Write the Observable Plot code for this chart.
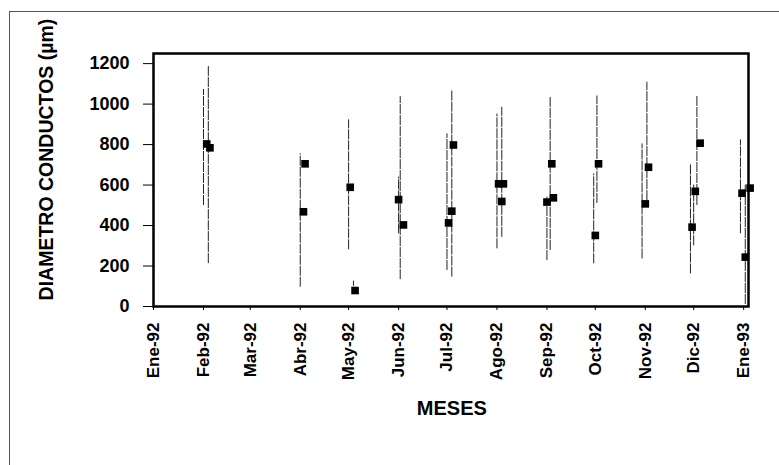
<!DOCTYPE html>
<html>
<head>
<meta charset="utf-8">
<script src="https://cdn.jsdelivr.net/npm/d3@7"></script>
<script src="https://cdn.jsdelivr.net/npm/@observablehq/plot@0.6"></script>
<style>
  html, body { margin: 0; padding: 0; background: #fff; }
  #wrap { position: relative; width: 779px; height: 465px; overflow: hidden; }
  #bl { position: absolute; left: 9px; top: 11px; width: 1px; height: 454px; background: #555; }
  #bt { position: absolute; left: 9px; top: 11px; width: 770px; height: 1px; background: #555; }
  #chart { position: absolute; left: 0; top: 0; }
</style>
</head>
<body>
<div id="wrap"><div id="chart"></div><div id="bl"></div><div id="bt"></div></div>
<script>
// Tick labels (month starts)
const monthNames = ["Ene","Feb","Mar","Abr","May","Jun","Jul","Ago","Sep","Oct","Nov","Dic"];
const tickDates = ["1992-01-01","1992-02-01","1992-03-01","1992-04-01","1992-05-01","1992-06-01",
  "1992-07-01","1992-08-01","1992-09-01","1992-10-01","1992-11-01","1992-12-01","1993-01-01"];
const yTicks = [0, 200, 400, 600, 800, 1000, 1200];

// Mean diameters (squares)
const pointDates = ["1992-02-03","1992-02-05","1992-04-04","1992-04-03","1992-05-02","1992-05-05",
  "1992-06-01","1992-06-04","1992-07-05","1992-07-04","1992-07-02",
  "1992-08-02","1992-08-05","1992-08-04","1992-09-04","1992-09-01","1992-09-05",
  "1992-10-03","1992-10-01","1992-11-03","1992-11-01",
  "1992-12-05","1992-12-02","1992-11-30","1992-12-31","1993-01-05","1993-01-02"];
const pointValues = [803, 784, 705, 468, 589, 79,
  528, 403, 798, 471, 413,
  606, 606, 519, 705, 516, 537,
  705, 351, 688, 507,
  807, 569, 392, 560, 585, 244];

// Ranges (vertical lines)
const rangeDates = ["1992-02-01","1992-02-04","1992-04-01","1992-05-01","1992-05-04",
  "1992-06-02","1992-06-01","1992-07-04","1992-07-01","1992-08-04","1992-08-01",
  "1992-09-03","1992-09-01","1992-10-02","1992-09-30","1992-11-02","1992-10-30",
  "1992-12-03","1992-11-29","1992-12-01","1992-12-30","1993-01-02"];
const rangeLow  = [499, 212, 95, 280, 100, 133, 359, 145, 178, 342, 285, 277, 227, 509, 211, 523, 235, 499, 161, 300, 359, 10];
const rangeHigh = [1072, 1190, 754, 922, 125, 1037, 639, 1070, 853, 984, 951, 1037, 540, 1040, 655, 1108, 803, 1042, 705, 600, 823, 600];

const points = pointDates.map((d, i) => ({date: new Date(d), value: pointValues[i]}));
const ranges = rangeDates.map((d, i) => ({date: new Date(d), lo: rangeLow[i], hi: rangeHigh[i]}));
const ticks = tickDates.map(d => new Date(d));
const fmt = d => `${monthNames[d.getUTCMonth()]}-${String(d.getUTCFullYear()).slice(2)}`;

const font = "'Liberation Sans', Arial, sans-serif";

const chart = Plot.plot({
  width: 779,
  height: 465,
  marginLeft: 153,
  marginRight: 31,
  marginTop: 53,
  marginBottom: 159,
  style: {fontFamily: font, background: "transparent", color: "#000"},
  x: {type: "utc", domain: [new Date("1992-01-01"), new Date("1993-01-04")]},
  y: {domain: [0, 1250]},
  marks: [
    Plot.ruleX(ranges, {x: "date", y1: "lo", y2: "hi", stroke: "#222", strokeWidth: 1, strokeDasharray: "10,1"}),
    Plot.dot(points, {x: "date", y: "value", symbol: "square", r: 4.3, fill: "#000", stroke: "none"}),
    Plot.frame({stroke: "#000", strokeWidth: 2.5}),
    Plot.axisY({ticks: yTicks, tickSize: 10, tickPadding: 14, fontSize: 18, fontWeight: "bold", label: null, tickFormat: d => String(d)}),
    Plot.axisX({ticks: ticks, tickFormat: fmt, tickSize: 4, tickRotate: -90, tickPadding: 12, fontSize: 17, fontWeight: "bold", label: null}),
    Plot.text(["DIAMETRO CONDUCTOS (µm)"], {frameAnchor: "left", dx: -107, y: [726], rotate: -90, textAnchor: "middle", fontSize: 19.5, fontWeight: "bold", fill: "#000"}),
    Plot.text(["MESES"], {x: [new Date("1992-07-04")], frameAnchor: "bottom", dy: 108, fontSize: 20, fontWeight: "bold", fill: "#000", style: "letter-spacing:-1.2px"})
  ]
});
document.getElementById("chart").appendChild(chart);
</script>
</body>
</html>
